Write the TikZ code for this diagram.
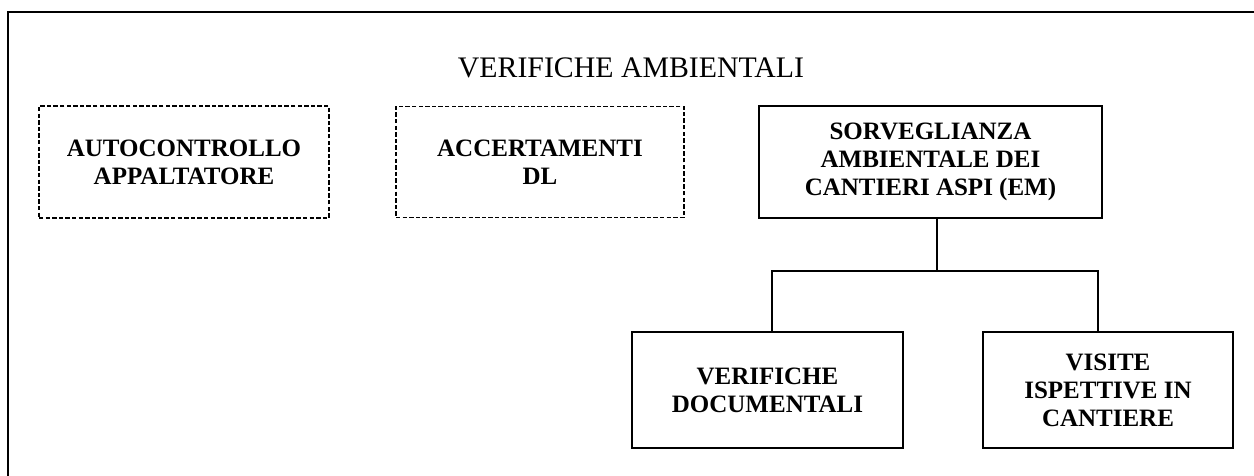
\documentclass[tikz,border=0pt]{standalone}
\usepackage{fontspec}
\setmainfont{Liberation Serif}
\usetikzlibrary{positioning}
\tikzstyle{check} = [draw, line width=0.7pt, dash pattern=on 2.2pt off 1.1pt, align=center, font=\bfseries\fontsize{12.5}{14}\selectfont]
\tikzstyle{unit} = [draw, line width=1pt, align=center, font=\bfseries\fontsize{12.5}{14}\selectfont]
\tikzstyle{link} = [line width=1pt]

\begin{document}
\begin{tikzpicture}[x=0.5pt, y=-0.5pt]
      \useasboundingbox (0,0) rectangle (1254,476);
      % frame
      \draw[line width=1.1pt] (8,500) -- (8,12) -- (1280,12);
      \node[font=\fontsize{14.9}{17}\selectfont] (title) at (631,68) {VERIFICHE AMBIENTALI};

      % dashed boxes
      \node[check, minimum width=145pt, minimum height=56pt] (auto) at (184,162) {AUTOCONTROLLO\\APPALTATORE};
      \node[check, minimum width=144pt, minimum height=55.5pt] (accert) at (540,162) {ACCERTAMENTI\\DL};

      % surveillance tree
      \node[unit, minimum width=171.5pt, minimum height=56pt] (sorv) at (930.5,162) {SORVEGLIANZA\\AMBIENTALE DEI\\CANTIERI ASPI (EM)};
      \node[unit, minimum width=135.5pt, minimum height=58pt, text depth=-4pt] (docum) at (767.5,390) {VERIFICHE\\DOCUMENTALI};
      \node[unit, minimum width=125pt, minimum height=58pt] (visite) at (1108,390) {VISITE\\ISPETTIVE IN\\CANTIERE};
      \coordinate (bus) at (937,271);
      \coordinate (left) at (772,271);
      \coordinate (right) at (1098,271);
      \draw[link] (sorv.south -| bus) -- (bus);
      \draw[link] (docum.north -| left) -- (left) -- (right) -- (visite.north -| right);
    \end{tikzpicture}
\end{document}
